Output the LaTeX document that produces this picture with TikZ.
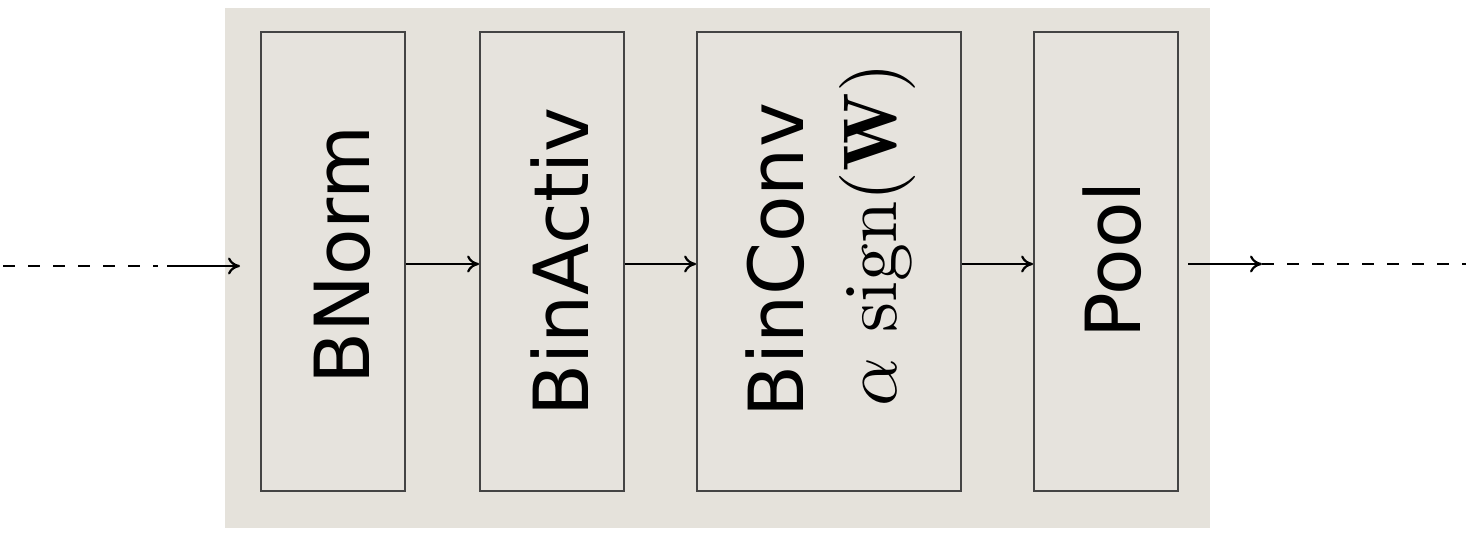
\documentclass[tikz,border=0pt]{standalone}
\usepackage{fontspec}
\setsansfont{DejaVu Sans}
\usetikzlibrary{arrows.meta}
\definecolor{bgc}{HTML}{E5E2DB}
\definecolor{boxc}{HTML}{E6E3DD}
\definecolor{linec}{HTML}{444444}
\tikzset{
  layerbox/.style={draw=linec, line width=1.8pt, fill=boxc, inner sep=0pt},
  layertext/.style={rotate=90, inner sep=0pt, font=\sffamily\fontsize{76}{80}\selectfont},
  mathtext/.style={rotate=90, inner sep=0pt},
  arr/.style={line width=2pt, -{To[length=12pt,width=17pt,line width=2.2pt]}},
  dashline/.style={line width=2.8pt, dash pattern=on 12pt off 13pt}
}
\begin{document}
\begin{tikzpicture}[x=1pt,y=-1pt]
\useasboundingbox (0,0) rectangle (1475,549);
\fill[bgc] (225,8) rectangle (1210,528);
\node[layerbox, minimum width=144pt, minimum height=459pt] (bnorm) at (333,261.5) {};
\node[layerbox, minimum width=144pt, minimum height=459pt] (binactiv) at (552,261.5) {};
\node[layerbox, minimum width=264pt, minimum height=459pt] (binconv) at (829,261.5) {};
\node[layerbox, minimum width=144pt, minimum height=459pt] (pool) at (1106,261.5) {};
\node[layertext] (tbnorm) at (342,255) {BNorm};
\node[layertext] (tbinactiv) at (560,262) {BinActiv};
\node[layertext] (tbinconv) at (775,260) {BinConv};
\node[mathtext] (tsign) at (877,235) {\scalebox{7.6}{$\alpha\ \mathrm{sign}(\mathbf{W})$}};
\node[layertext] (tpool) at (1112,260) {Pool};
\coordinate (inA) at (3,266);
\coordinate (inB) at (158,266);
\coordinate (inC) at (167,266);
\coordinate (inD) at (240,266);
\draw[dashline] (inA) -- (inB);
\draw[arr] (inC) -- (inD);
\draw[arr] ([yshift=-2.5pt]bnorm.east) -- ([yshift=-2.5pt]binactiv.west);
\draw[arr] ([yshift=-2.5pt]binactiv.east) -- ([yshift=-2.5pt]binconv.west);
\draw[arr] ([yshift=-2.5pt]binconv.east) -- ([yshift=-2.5pt]pool.west);
\coordinate (outA) at (1188,264);
\coordinate (outB) at (1262,264);
\coordinate (outC) at (1466,264);
\draw[arr] (outA) -- (outB);
\draw[dashline] (outB) -- (outC);
\end{tikzpicture}
\end{document}
